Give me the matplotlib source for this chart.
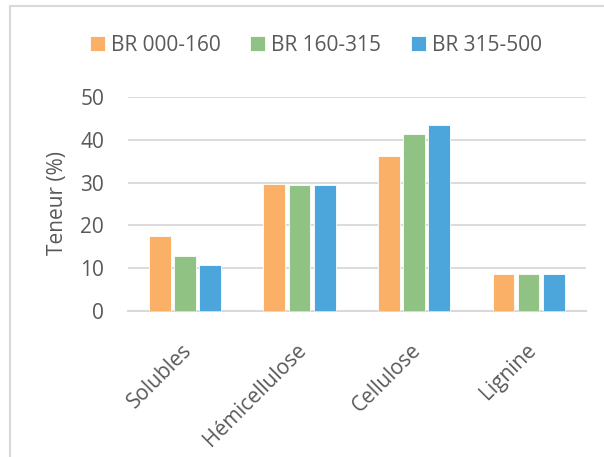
import numpy as np
import matplotlib
matplotlib.use("Agg")
from matplotlib import pyplot as plt
from matplotlib.lines import Line2D
import matplotlib.transforms as mtransforms

categories = ["Solubles", "Hémicellulose", "Cellulose", "Lignine"]
series_names = ["BR 000-160", "BR 160-315", "BR 315-500"]
br_000_160 = [17.5, 29.7, 36.1, 8.8]
br_160_315 = [13.0, 29.4, 41.3, 8.6]
br_315_500 = [10.8, 29.4, 43.4, 8.6]
colors = ["#FAB167", "#8FC283", "#4CA5DB"]

plt.rcParams['font.family'] = ['Open Sans', 'DejaVu Sans']
text_color = "#595959"
fs = 15

fig = plt.figure(figsize=(6.04, 4.57), dpi=100)
ax = fig.add_axes([0.2114, 0.3188, 0.7586, 0.4696])

x = np.arange(len(categories))
width = 0.19
step = 0.22
for i, (vals, name) in enumerate(zip([br_000_160, br_160_315, br_315_500], series_names)):
    ax.bar(x + (i - 1) * step, vals, width, color=colors[i], label=name,
           edgecolor="white", linewidth=0.6, zorder=3)

ax.set_xlim(-0.5, len(categories) - 0.5)
ax.set_ylim(0, 50)
ax.set_yticks(range(0, 51, 10))
ax.yaxis.grid(True, color="#D9D9D9", linewidth=1.3, zorder=0)
for s in ["top", "right", "left"]:
    ax.spines[s].set_visible(False)
ax.spines["bottom"].set_color("#D9D9D9")
ax.spines["bottom"].set_linewidth(1.5)
ax.tick_params(axis="both", length=0, labelsize=fs, labelcolor=text_color)
ax.tick_params(axis="y", pad=17)
ax.set_xticks(x)
ax.set_xticklabels([])

# rotated category labels, right end a little right of the group centre
lbl_trans = ax.get_xaxis_transform() + mtransforms.ScaledTranslation(4 / 100, -36 / 100, fig.dpi_scale_trans)
for xi, name in zip(x, categories):
    ax.text(xi, 0, name, transform=lbl_trans, rotation=45, ha="right", va="center",
            rotation_mode="anchor", fontsize=fs, color=text_color)

fig.text(57 / 604, 1 - 203 / 457, "Teneur (%)", rotation=90, ha="center", va="center",
         fontsize=fs, color=text_color)

fig.legend(loc="center", bbox_to_anchor=(0.523, 0.9015), ncol=3, frameon=False,
           fontsize=fs, handlelength=0.72, handleheight=0.72, handletextpad=0.3,
           columnspacing=1.4, labelcolor=text_color)

# chart frame lines (left and top)
fig.add_artist(Line2D([10 / 604, 10 / 604], [0, 1 - 6 / 457], transform=fig.transFigure,
                      color="#D9D9D9", linewidth=1.5))
fig.add_artist(Line2D([10 / 604, 1], [1 - 6 / 457, 1 - 6 / 457], transform=fig.transFigure,
                      color="#D9D9D9", linewidth=1.5))

fig.savefig("out.png", dpi=100)
